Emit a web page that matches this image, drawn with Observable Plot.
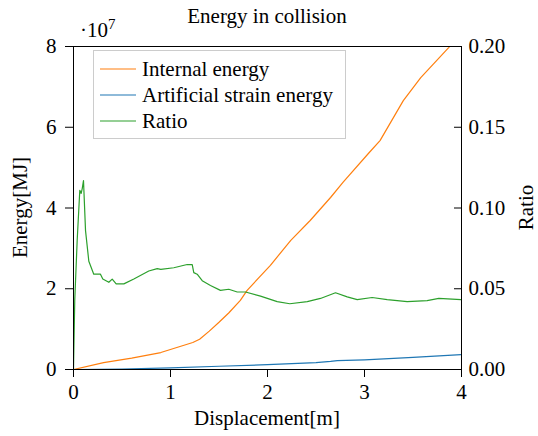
<!DOCTYPE html>
<html>
<head>
<meta charset="utf-8">
<script src="https://cdn.jsdelivr.net/npm/d3@7"></script>
<script src="https://cdn.jsdelivr.net/npm/@observablehq/plot@0.6"></script>
<style>
  html, body { margin: 0; padding: 0; background: #fff; }
  #chart svg { display: block; }
</style>
</head>
<body>
<div id="chart"></div>
<script>
// ---- data (energy in units of 1e7 MJ) ----
const seriesNames = ["Internal energy", "Artificial strain energy", "Ratio"];
const seriesColors = ["#ff7f0e", "#1f77b4", "#2ca02c"];

const internalDisp = [0, 0.31, 0.6, 0.9, 1.23, 1.3, 1.4, 1.5, 1.6, 1.72, 1.79, 2.03, 2.24, 2.44, 2.65, 2.78, 3.04, 3.16, 3.40, 3.58, 3.87, 4.0];
const internalEnergy = [0, 0.17, 0.28, 0.42, 0.67, 0.75, 0.95, 1.17, 1.40, 1.71, 1.96, 2.58, 3.2, 3.69, 4.26, 4.64, 5.35, 5.67, 6.66, 7.23, 7.98, 8.35];

const artificialDisp = [0, 0.5, 1.0, 1.5, 2.0, 2.5, 2.65, 2.72, 3.0, 3.5, 4.0];
const artificialEnergy = [0, 0.01, 0.04, 0.08, 0.12, 0.17, 0.2, 0.22, 0.24, 0.30, 0.37];

const ratioDisp = [0, 0.013, 0.038, 0.065, 0.079, 0.09, 0.103, 0.124, 0.158, 0.209, 0.278, 0.302, 0.364, 0.399, 0.44, 0.519, 0.622, 0.776, 0.863, 0.9, 1.034, 1.172, 1.224, 1.24, 1.275, 1.327, 1.412, 1.515, 1.601, 1.688, 1.773, 1.928, 2.1, 2.23, 2.41, 2.546, 2.701, 2.822, 2.925, 3.079, 3.234, 3.44, 3.646, 3.766, 4.0];
const ratioValue = [0, 0.043, 0.08, 0.111, 0.109, 0.112, 0.117, 0.086, 0.067, 0.059, 0.059, 0.056, 0.054, 0.056, 0.053, 0.053, 0.056, 0.061, 0.0625, 0.062, 0.063, 0.065, 0.065, 0.060, 0.059, 0.055, 0.052, 0.049, 0.0497, 0.048, 0.048, 0.0454, 0.042, 0.0407, 0.042, 0.044, 0.0475, 0.045, 0.0433, 0.0446, 0.0433, 0.042, 0.0427, 0.044, 0.0433];

const xTicks = [0, 1, 2, 3, 4];
const yTicks = [0, 2, 4, 6, 8];
const ratioTicks = [0, 0.05, 0.10, 0.15, 0.20];
const ratioMax = 0.20, energyMax = 8;

const toRatioAxis = r => r * energyMax / ratioMax;

const internal = internalDisp.map((d, i) => ({x: d, y: internalEnergy[i]}));
const artificial = artificialDisp.map((d, i) => ({x: d, y: artificialEnergy[i]}));
const ratio = ratioDisp.map((d, i) => ({x: d, y: toRatioAxis(ratioValue[i])}));

const FONT = '"Liberation Serif", "DejaVu Serif", serif';
const FS = 21;

const plot = Plot.plot({
  width: 538,
  height: 436,
  marginLeft: 73,
  marginRight: 77,
  marginTop: 46,
  marginBottom: 67,
  style: {fontFamily: FONT, fontSize: FS + "px", color: "black", background: "white"},
  x: {domain: [0, 4]},
  y: {domain: [0, energyMax]},
  marks: [
    Plot.line(internal, {x: "x", y: "y", stroke: seriesColors[0], strokeWidth: 1.2, clip: true}),
    Plot.line(artificial, {x: "x", y: "y", stroke: seriesColors[1], strokeWidth: 1.2, clip: true}),
    Plot.line(ratio, {x: "x", y: "y", stroke: seriesColors[2], strokeWidth: 1.2, clip: true}),
    Plot.frame({stroke: "black", strokeWidth: 1}),
    Plot.axisX(xTicks, {tickSize: 8, tickPadding: 7, label: null, tickFormat: d => String(d), fontSize: FS}),
    Plot.axisY(yTicks, {anchor: "left", tickSize: 8, tickPadding: 9, label: null, tickFormat: d => String(d), fontSize: FS}),
    Plot.axisY(yTicks, {anchor: "right", tickSize: -8, tickPadding: 0, label: null, tickFormat: () => "", fontSize: FS}),
    Plot.axisY(ratioTicks.map(toRatioAxis), {anchor: "right", tickSize: 0, tickPadding: 7, label: null,
      tickFormat: (d, i) => ratioTicks[i].toFixed(2), fontSize: FS})
  ]
});

document.getElementById("chart").appendChild(plot);

// ---- annotations: title, axis labels, exponent, legend ----
const svg = d3.select(plot);
const W = 538, mL = 73, mR = 77, mT = 46, mB = 67, H = 436;
const cx = (mL + (W - mR)) / 2, cy = (mT + (H - mB)) / 2;

function txt(t, attrs) {
  const el = svg.append("text").text(t)
    .attr("font-family", FONT).attr("font-size", FS).attr("fill", "black")
    .attr("text-anchor", "start");
  for (const k in attrs) el.attr(k, attrs[k]);
  return el;
}
txt("Energy in collision", {x: cx, y: 23, "text-anchor": "middle"});
txt("Displacement[m]", {x: cx, y: 425, "text-anchor": "middle"});
txt("Energy[MJ]", {transform: `translate(27,${cy}) rotate(-90)`, "text-anchor": "middle"});
txt("Ratio", {transform: `translate(533,${cy}) rotate(-90)`, "text-anchor": "middle"});

const expo = txt("", {x: 80, y: 37});
expo.append("tspan").text("·10");
expo.append("tspan").attr("dy", -8).attr("font-size", 15).text("7");

// legend
const lg = svg.append("g");
lg.append("rect").attr("x", 93.5).attr("y", 50.5).attr("width", 252).attr("height", 88)
  .attr("fill", "white").attr("stroke", "#cccccc").attr("stroke-width", 1);
seriesNames.forEach((name, i) => {
  const yy = 69 + i * 26;
  lg.append("line").attr("x1", 100).attr("x2", 136).attr("y1", yy).attr("y2", yy)
    .attr("stroke", seriesColors[i]).attr("stroke-width", 1.2);
  lg.append("text").text(name).attr("x", 142).attr("y", yy + 7)
    .attr("text-anchor", "start")
    .attr("font-family", FONT).attr("font-size", FS).attr("fill", "black");
});
</script>
</body>
</html>
